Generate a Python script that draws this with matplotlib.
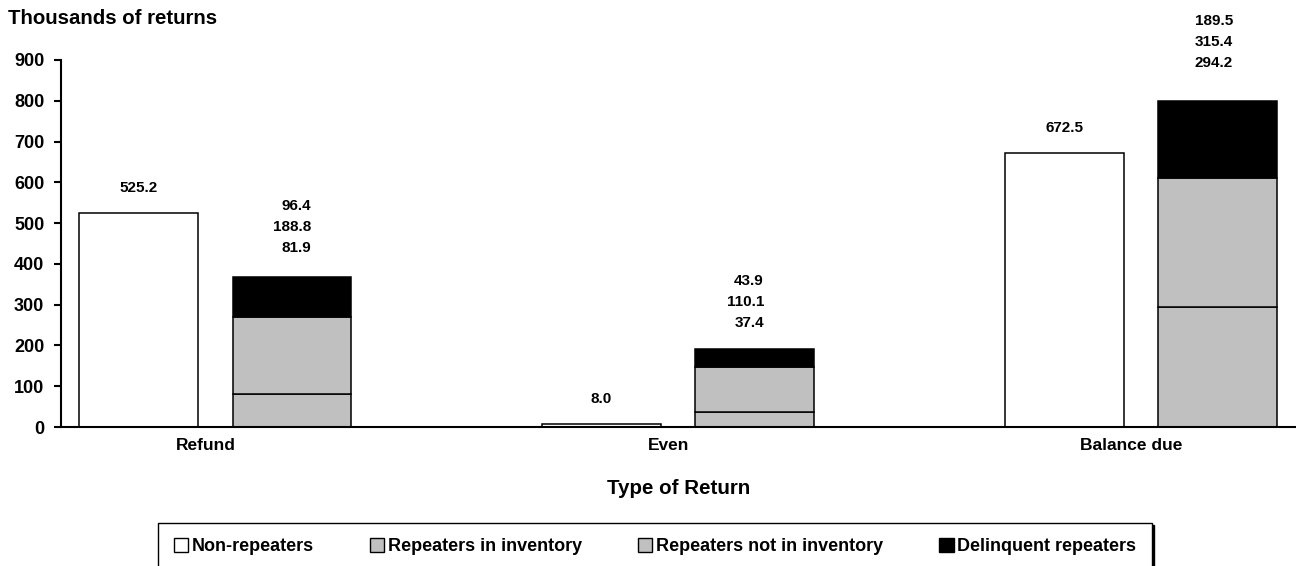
import matplotlib
matplotlib.use("Agg")
import matplotlib.pyplot as plt
from matplotlib.patches import Patch
import numpy as np

plt.rcParams['font.family'] = ['Liberation Sans', 'DejaVu Sans']
plt.rcParams['font.weight'] = 'bold'

# data (thousands of returns)
categories = ['Refund', 'Even', 'Balance due']
non_repeaters = [525.2, 8.0, 672.5]
rep_in_inventory = [81.9, 37.4, 294.2]
rep_not_in_inventory = [188.8, 110.1, 315.4]
delinquent = [96.4, 43.9, 189.5]

GRAY = '#C0C0C0'
x = np.arange(len(categories))
width = 0.257
off = 0.166

fig = plt.figure(figsize=(12.96, 5.66), dpi=100)
ax = fig.add_axes([61/1296, 1 - 427/566, 1 - 61/1296, 367/566])

edge = dict(edgecolor='black', linewidth=1.1)
ax.bar(x - off, non_repeaters, width, color='white', **edge)
b1 = np.array(rep_in_inventory)
b2 = b1 + np.array(rep_not_in_inventory)
ax.bar(x + off, rep_in_inventory, width, color=GRAY, **edge)
ax.bar(x + off, rep_not_in_inventory, width, bottom=b1, color=GRAY, **edge)
ax.bar(x + off, delinquent, width, bottom=b2, color='black', **edge)

# value labels
for i in range(len(categories)):
    ax.annotate(f'{non_repeaters[i]:.1f}', (x[i] - off, non_repeaters[i]),
                xytext=(0, 25), textcoords='offset pixels',
                ha='center', va='center', fontsize=11, fontweight='bold')

stack_dx = [19, 9, 15]
stack_dy = [29, 26, 38]
totals = b2 + np.array(delinquent)
for i in range(len(categories)):
    vals = [rep_in_inventory[i], rep_not_in_inventory[i], delinquent[i]]
    for k, v in enumerate(vals):
        ax.annotate(f'{v:.1f}', (x[i] + off, totals[i]),
                    xytext=(stack_dx[i], stack_dy[i] + 21 * k),
                    textcoords='offset pixels',
                    ha='right', va='center', fontsize=11, fontweight='bold')

ax.set_xlim(-0.333, 2.335)
ax.set_ylim(0, 900)
ax.set_yticks(range(0, 901, 100))
ax.set_xticks(x - 0.02)
ax.set_xticklabels(categories)
ax.tick_params(axis='x', length=0, pad=8, labelsize=12.5)
ax.tick_params(axis='y', length=5, width=1.5, pad=7, labelsize=13)
for s in ['top', 'right']:
    ax.spines[s].set_visible(False)
for s in ['left', 'bottom']:
    ax.spines[s].set_linewidth(1.5)

ax.set_xlabel('Type of Return', fontsize=14.8, fontweight='bold', labelpad=19)
fig.text(8/1296, 1 - 18/566, 'Thousands of returns', fontsize=14.7,
         fontweight='bold', ha='left', va='center')

handles = [
    Patch(facecolor='white', edgecolor='black', label='Non-repeaters'),
    Patch(facecolor=GRAY, edgecolor='black', label='Repeaters in inventory'),
    Patch(facecolor=GRAY, edgecolor='black', label='Repeaters not in inventory'),
    Patch(facecolor='black', edgecolor='black', label='Delinquent repeaters'),
]
leg = fig.legend(handles=handles, ncol=4, loc='lower center',
                 bbox_to_anchor=(655/1296, -0.008), fontsize=13,
                 frameon=True, fancybox=False, shadow={'color': 'black', 'alpha': 1},
                 handlelength=0.8, handleheight=0.8, handletextpad=0.2,
                 columnspacing=3.1, borderpad=0.85, borderaxespad=0)
leg.get_frame().set_edgecolor('black')
leg.get_frame().set_linewidth(1.0)

fig.savefig('out.png', dpi=100)
